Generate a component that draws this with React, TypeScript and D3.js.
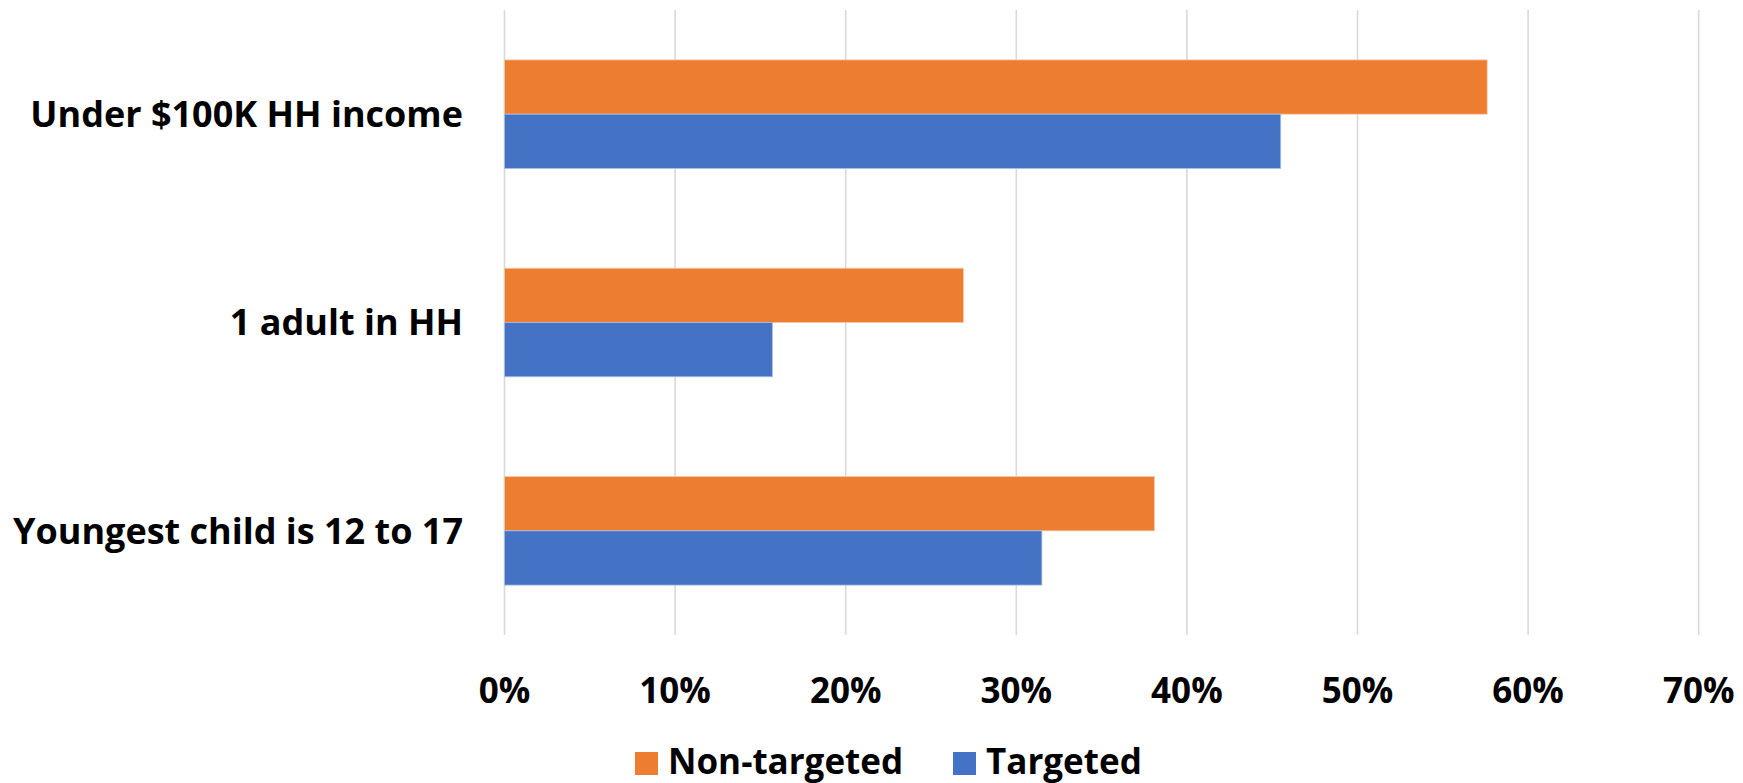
import React from "react";
import * as d3 from "d3";

const categories = ["Under $100K HH income", "1 adult in HH", "Youngest child is 12 to 17"];
const nonTargeted = [0.576, 0.269, 0.381];
const targeted = [0.455, 0.157, 0.315];
const xTicks = [0, 0.1, 0.2, 0.3, 0.4, 0.5, 0.6, 0.7];
const seriesNames = ["Non-targeted", "Targeted"];
const seriesColors = ["#ED7D31", "#4472C4"];

const W = 1743;
const H = 783;
const FONT = "'Open Sans', 'Noto Sans', sans-serif";

export default function App() {
  const x = d3.scaleLinear().domain([0, 0.7]).range([504.5, 1698.7]);
  const y = d3
    .scaleBand<string>()
    .domain(categories)
    .range([10, 635])
    .paddingInner(0.479)
    .paddingOuter(0.2395);
  const half = y.bandwidth() / 2;
  const fmt = d3.format(".0%");

  return (
    <svg
      width={W}
      height={H}
      style={{ position: "absolute", left: 0, top: 0, background: "#fff" }}
      fontFamily={FONT}
    >
      {/* vertical gridlines */}
      {xTicks.map((t) => (
        <line
          key={"g" + t}
          x1={x(t)}
          x2={x(t)}
          y1={10}
          y2={635}
          stroke="#d9d9d9"
          strokeWidth={1.6}
        />
      ))}

      {/* bars */}
      {categories.map((c, i) => {
        const y0 = y(c) as number;
        return (
          <g key={c}>
            <rect
              x={x(0)}
              y={y0}
              width={x(nonTargeted[i]) - x(0)}
              height={half}
              fill={seriesColors[0]}
              stroke="#f6c7a6"
              strokeWidth={0.8}
            />
            <rect
              x={x(0)}
              y={y0 + half}
              width={x(targeted[i]) - x(0)}
              height={half}
              fill={seriesColors[1]}
              stroke="#a9bfe6"
              strokeWidth={0.8}
            />
          </g>
        );
      })}

      {/* category labels */}
      {categories.map((c) => (
        <text
          key={"l" + c}
          x={463}
          y={(y(c) as number) + y.bandwidth() / 2}
          dy="0.36em"
          textAnchor="end"
          fontSize={36}
          fontWeight={700}
          fill="#000"
        >
          {c}
        </text>
      ))}

      {/* x tick labels */}
      {xTicks.map((t) => (
        <text
          key={"t" + t}
          x={x(t)}
          y={703}
          textAnchor="middle"
          fontSize={35}
          fontWeight={700}
          fill="#000"
        >
          {fmt(t)}
        </text>
      ))}

      {/* legend */}
      {seriesNames.map((s, i) => {
        const lx = i === 0 ? 635 : 953;
        return (
          <g key={"lg" + s}>
            <rect x={lx} y={752} width={23} height={23} fill={seriesColors[i]} />
            <text x={lx + 33} y={774} fontSize={35} fontWeight={700} fill="#000">
              {s}
            </text>
          </g>
        );
      })}
    </svg>
  );
}
